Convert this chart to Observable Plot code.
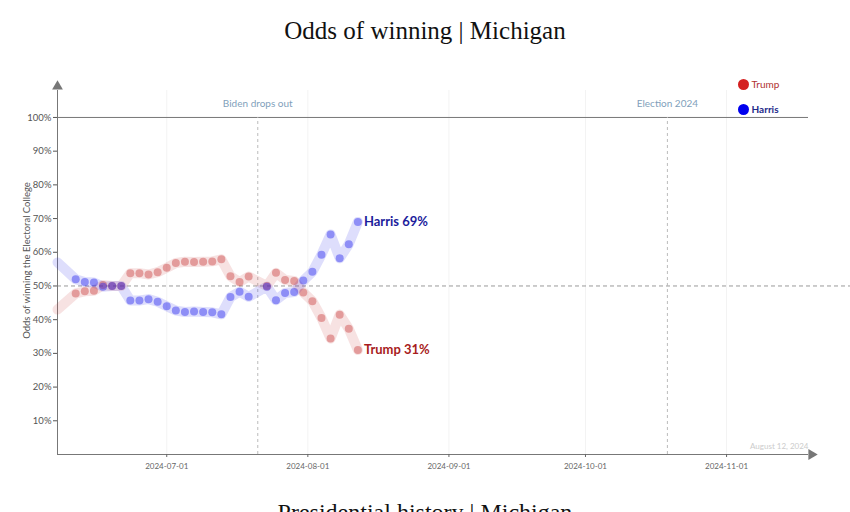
<!DOCTYPE html>
<html><head><meta charset="utf-8">
<script src="https://cdn.jsdelivr.net/npm/d3@7"></script>
<script src="https://cdn.jsdelivr.net/npm/@observablehq/plot@0.6"></script>
<style>
body{margin:0;background:#fff;width:850px;height:512px;overflow:hidden;}
#title{height:60px;line-height:62px;text-align:center;font-family:"Liberation Serif",serif;font-size:25px;color:#111;}
#chart{height:430px;}
#caption{margin-top:10px;line-height:24px;text-align:center;font-family:"Liberation Serif",serif;font-size:24px;color:#111;}
</style></head><body>
<div id="title">Odds of winning | Michigan</div>
<div id="chart"></div>
<div id="caption">Presidential history | Michigan</div>
<script>
const dates = ["2024-06-07","2024-06-11","2024-06-13","2024-06-15","2024-06-17","2024-06-19","2024-06-21","2024-06-23","2024-06-25","2024-06-27","2024-06-29","2024-07-01","2024-07-03","2024-07-05","2024-07-07","2024-07-09","2024-07-11","2024-07-13","2024-07-15","2024-07-17","2024-07-19","2024-07-23","2024-07-25","2024-07-27","2024-07-29","2024-07-31","2024-08-02","2024-08-04","2024-08-06","2024-08-08","2024-08-10","2024-08-12"];
const harris = [57, 52, 51.2, 51, 49.8, 50, 50, 45.7, 45.7, 46.1, 45.3, 44, 42.7, 42.3, 42.4, 42.3, 42.2, 41.6, 46.7, 48.3, 46.8, 49.8, 45.8, 47.9, 48.2, 51.6, 54.2, 59.3, 65.3, 58.2, 62.4, 69];
const trump = [43, 47.8, 48.4, 48.6, 50.3, 50, 50, 53.8, 53.8, 53.4, 54.1, 55.4, 56.8, 57.2, 57.1, 57.2, 57.3, 57.9, 52.9, 51.2, 52.8, 50, 53.9, 51.8, 51.5, 48.1, 45.5, 40.5, 34.4, 41.5, 37.3, 31];
const candidates = ["Trump", "Harris"];
const eventDates = ["2024-07-21", "2024-10-19"];
const eventLabels = ["Biden drops out", "Election 2024"];
const xTicks = ["2024-07-01","2024-08-01","2024-09-01","2024-10-01","2024-11-01"];
const yTicks = [10,20,30,40,50,60,70,80,90,100];
const xDomain = ["2024-06-07","2024-11-19"];
const asOf = "August 12, 2024";
const yLabel = "Odds of winning the Electoral College";

const parse = d3.utcParse("%Y-%m-%d");
const rows = [];
dates.forEach((d, i) => {
  rows.push({date: parse(d), value: trump[i], candidate: "Trump", dot: i > 0, last: i === dates.length - 1});
  rows.push({date: parse(d), value: harris[i], candidate: "Harris", dot: i > 0, last: i === dates.length - 1});
});
const events = eventDates.map((d, i) => ({date: parse(d), label: eventLabels[i]}));
const trumpRows = rows.filter(d => d.candidate === "Trump");
const harrisRows = rows.filter(d => d.candidate === "Harris");
const farRight = parse("2024-12-31");

const axisColor = "#777";
const chart = Plot.plot({
  width: 850, height: 430,
  marginLeft: 57, marginRight: 42, marginTop: 30, marginBottom: 36,
  style: {fontFamily: "Lato, sans-serif", background: "#fff"},
  x: {type: "utc", domain: xDomain.map(parse)},
  y: {domain: [0, 108]},
  color: {domain: candidates, range: ["#c83a3a", "#2020ee"]},
  marks: [
    Plot.gridX(xTicks.map(parse), {stroke: "#000", strokeOpacity: 0.05}),
    Plot.ruleY([100], {stroke: axisColor, strokeWidth: 1}),
    Plot.ruleY([50], {x1: parse(xDomain[0]), x2: farRight, stroke: "#999", strokeDasharray: "4,3"}),
    Plot.ruleX(events, {x: "date", y1: 0, y2: 100, stroke: "#bbb", strokeDasharray: "3,3"}),
    Plot.text(events, {x: "date", text: "label", frameAnchor: "top", lineAnchor: "middle", dy: 13, fill: "#7f9fbb", fontSize: 10}),
    Plot.ruleX([parse(xDomain[0])], {stroke: axisColor}),
    Plot.ruleY([0], {stroke: axisColor}),
    Plot.dot([0], {frameAnchor: "top-left", symbol: "triangle", r: 4, fill: axisColor, dy: -4}),
    Plot.dot([0], {frameAnchor: "bottom-right", symbol: "triangle", rotate: 90, r: 4, fill: axisColor, dx: 3}),
    Plot.axisY({ticks: yTicks, tickFormat: d => d + "%", tickSize: 4, tickPadding: 2, fontSize: 9.5, color: "#555", label: null}),
    Plot.text([yLabel], {frameAnchor: "left", textAnchor: "middle", lineAnchor: "middle", rotate: -90, dx: -31, dy: -12, fill: "#555", fontSize: 9.5}),
    Plot.axisX({ticks: xTicks.map(parse), tickFormat: d3.utcFormat("%Y-%m-%d"), tickSize: 3, fontSize: 8, color: "#666", label: null}),
    Plot.line(rows, {x: "date", y: "value", z: "candidate", stroke: "candidate", strokeWidth: 10, strokeOpacity: 0.15}),
    Plot.dot(rows.filter(d => d.dot), {x: "date", y: "value", fill: "candidate", r: 4, fillOpacity: 0.42}),
    Plot.text(harrisRows.filter(d => d.last), {x: "date", y: "value", text: d => `${d.candidate} ${Math.round(d.value)}%`, textAnchor: "start", dx: 6, fontWeight: "bold", fontSize: 13, fill: "#1c1c9c"}),
    Plot.text(trumpRows.filter(d => d.last), {x: "date", y: "value", text: d => `${d.candidate} ${Math.round(d.value)}%`, textAnchor: "start", dx: 6, fontWeight: "bold", fontSize: 13, fill: "#a81c1c"}),
    Plot.dot([candidates[0]], {frameAnchor: "top-right", dx: -65, dy: -6, r: 5.5, fill: "#d42020"}),
    Plot.dot([candidates[1]], {frameAnchor: "top-right", dx: -65, dy: 19, r: 5.5, fill: "#0000ee"}),
    Plot.text([candidates[0]], {frameAnchor: "top-right", lineAnchor: "middle", dx: -57, dy: -6, text: d => d, textAnchor: "start", fontSize: 10, fill: "#b03030"}),
    Plot.text([candidates[1]], {frameAnchor: "top-right", lineAnchor: "middle", dx: -57, dy: 19, text: d => d, textAnchor: "start", fontSize: 10, fontWeight: "bold", fill: "#1d2a8a"}),
    Plot.text([asOf], {frameAnchor: "bottom-right", lineAnchor: "middle", dy: -8, text: d => d, textAnchor: "end", fontSize: 8, fill: "#ccc"})
  ]
});
document.getElementById("chart").appendChild(chart);
</script></body></html>
